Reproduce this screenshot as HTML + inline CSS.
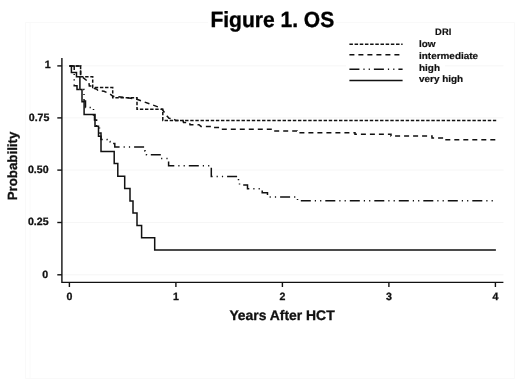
<!DOCTYPE html>
<html><head><meta charset="utf-8"><title>Figure 1. OS</title>
<style>
html,body{margin:0;padding:0;background:#fff;}
body{width:520px;height:384px;overflow:hidden;font-family:"Liberation Sans",Arial,Helvetica,sans-serif;}
svg{display:block;text-rendering:geometricPrecision;font-family:"Liberation Sans",Arial,Helvetica,sans-serif;}
</style></head><body>
<svg width="520" height="384" viewBox="0 0 520 384">
<path d="M208,22.5 H25.5 V378.5 H514.5 V22.5 H336" fill="none" stroke="#f9f9f9" stroke-width="1"/>
<line x1="30" y1="23" x2="30" y2="378" stroke="#fafafa" stroke-width="1"/>
<line x1="61.9" y1="65.9" x2="346" y2="65.9" stroke="#f6f6f6" stroke-width="1"/>
<line x1="445" y1="65.9" x2="503.5" y2="65.9" stroke="#f6f6f6" stroke-width="1"/>
<line x1="61.9" y1="117.9" x2="503.5" y2="117.9" stroke="#f6f6f6" stroke-width="1"/>
<line x1="61.9" y1="170.1" x2="503.5" y2="170.1" stroke="#f6f6f6" stroke-width="1"/>
<line x1="61.9" y1="222.5" x2="503.5" y2="222.5" stroke="#f6f6f6" stroke-width="1"/>
<line x1="61.9" y1="274.8" x2="503.5" y2="274.8" stroke="#f6f6f6" stroke-width="1"/>
<text transform="translate(272.3,26.9) scale(0.955,1)" text-anchor="middle" font-size="22" font-weight="bold" fill="#000" stroke="#000" stroke-width="0.35">Figure 1. OS</text>
<text transform="translate(443.2,34.9) rotate(0.01)" text-anchor="middle" font-size="9.4" font-weight="bold" fill="#111" stroke="#111" stroke-width="0.15">DRI</text>
<line x1="349.4" y1="44.3" x2="402.6" y2="44.3" stroke="#111" stroke-width="1.5" stroke-dasharray="3.5 1.68"/>
<text transform="translate(419,46.8) scale(1.06,1)" font-size="9.4" font-weight="bold" fill="#111" stroke="#111" stroke-width="0.2">low</text>
<line x1="349.4" y1="54.8" x2="402.6" y2="54.8" stroke="#111" stroke-width="1.5" stroke-dasharray="5 4"/>
<text transform="translate(419,58.5) scale(1.06,1)" font-size="9.4" font-weight="bold" fill="#111" stroke="#111" stroke-width="0.2">intermediate</text>
<line x1="349.4" y1="69.2" x2="402.6" y2="69.2" stroke="#111" stroke-width="1.5" stroke-dasharray="10 4 1.2 4.1 1.2 4"/>
<text transform="translate(419,70.5) scale(1.06,1)" font-size="9.4" font-weight="bold" fill="#111" stroke="#111" stroke-width="0.2">high</text>
<line x1="349.4" y1="80.4" x2="402.6" y2="80.4" stroke="#111" stroke-width="1.5"/>
<text transform="translate(419,81.8) scale(1.06,1)" font-size="9.4" font-weight="bold" fill="#111" stroke="#111" stroke-width="0.2">very high</text>
<path d="M61.9,58 V282.4 H503.4" fill="none" stroke="#111" stroke-width="1.4"/>
<line x1="57.3" y1="65.9" x2="61.9" y2="65.9" stroke="#111" stroke-width="1.4"/>
<text x="50.6" y="67.8" text-anchor="end" font-size="10.6" font-weight="bold" fill="#111" stroke="#111" stroke-width="0.3">1</text>
<line x1="57.3" y1="117.9" x2="61.9" y2="117.9" stroke="#111" stroke-width="1.4"/>
<text x="49.4" y="120.8" text-anchor="end" font-size="10.6" font-weight="bold" fill="#111" stroke="#111" stroke-width="0.3">0.75</text>
<line x1="57.3" y1="170.1" x2="61.9" y2="170.1" stroke="#111" stroke-width="1.4"/>
<text x="48.6" y="173.0" text-anchor="end" font-size="10.6" font-weight="bold" fill="#111" stroke="#111" stroke-width="0.3">0.50</text>
<line x1="57.3" y1="222.5" x2="61.9" y2="222.5" stroke="#111" stroke-width="1.4"/>
<text x="48.6" y="225.4" text-anchor="end" font-size="10.6" font-weight="bold" fill="#111" stroke="#111" stroke-width="0.3">0.25</text>
<line x1="57.3" y1="274.8" x2="61.9" y2="274.8" stroke="#111" stroke-width="1.4"/>
<text x="48.2" y="277.7" text-anchor="end" font-size="10.6" font-weight="bold" fill="#111" stroke="#111" stroke-width="0.3">0</text>
<line x1="69.4" y1="282.4" x2="69.4" y2="287" stroke="#111" stroke-width="1.4"/>
<text x="69.4" y="300.3" text-anchor="middle" font-size="10.6" font-weight="bold" fill="#111" stroke="#111" stroke-width="0.3">0</text>
<line x1="175.9" y1="282.4" x2="175.9" y2="287" stroke="#111" stroke-width="1.4"/>
<text x="175.9" y="300.3" text-anchor="middle" font-size="10.6" font-weight="bold" fill="#111" stroke="#111" stroke-width="0.3">1</text>
<line x1="282.4" y1="282.4" x2="282.4" y2="287" stroke="#111" stroke-width="1.4"/>
<text x="282.4" y="300.3" text-anchor="middle" font-size="10.6" font-weight="bold" fill="#111" stroke="#111" stroke-width="0.3">2</text>
<line x1="388.9" y1="282.4" x2="388.9" y2="287" stroke="#111" stroke-width="1.4"/>
<text x="388.9" y="300.3" text-anchor="middle" font-size="10.6" font-weight="bold" fill="#111" stroke="#111" stroke-width="0.3">3</text>
<line x1="495.4" y1="282.4" x2="495.4" y2="287" stroke="#111" stroke-width="1.4"/>
<text x="495.4" y="300.3" text-anchor="middle" font-size="10.6" font-weight="bold" fill="#111" stroke="#111" stroke-width="0.3">4</text>
<text x="282" y="319.9" text-anchor="middle" font-size="13.9" font-weight="bold" fill="#111" stroke="#111" stroke-width="0.3">Years After HCT</text>
<text transform="translate(17,166) rotate(-90)" text-anchor="middle" font-size="13.3" font-weight="bold" fill="#111" stroke="#111" stroke-width="0.3">Probability</text>
<polyline points="69.4,65.9 80.6,65.9 80.6,76.7 92.7,76.7 92.7,87.6 112.7,87.6 112.7,97.8 137,97.8 137,109.2 162.8,109.2 162.8,120.4 496.2,120.4" fill="none" stroke="#111" stroke-width="1.5" stroke-linejoin="miter" stroke-dasharray="3.4 1.73" stroke-dashoffset="4.21"/>
<polyline points="69.4,65.9 80.6,65.9 80.6,76.7 82,76.7 87,80.8 88.8,81.5 89.3,86 92.2,86 92.6,88 97,89.3 98,90.8 104,91.3 110,94 113,96.3 124,97.3 137,99.3 161,108 163,110.5 167,116 169,118.3 174,118.6 175.5,120.6 183,120.6 183.5,122.5 189.5,122.6 190,124.7 199,124.7 201,126.4 213.5,126.4 214,127.6 221,127.6 221.5,129.3 273.8,129.3 273.8,130.9 297,130.9 297,132.7 355,132.7 355,134.2 391,134.2 391,136 432,136 432,138 444,138 444,139.8 495.7,139.8" fill="none" stroke="#111" stroke-width="1.5" stroke-linejoin="miter" stroke-dasharray="5 4" stroke-dashoffset="2.56"/>
<polyline points="69.4,65.9 74.2,65.9 74.2,85.8 77,85.8 77,89.5 84,89.5 84,101 85.5,101 85.5,107.5 93.5,107.5 93.5,115 94.5,115 94.5,120 96.6,120 96.6,127 99.5,127 99.5,133 101,133 101,139.4 107,139.4 107,141.5 110,141.5 110,143.5 114.8,143.5 114.8,147 145,147 145,151 146.5,151 146.5,154.8 161,154.8 161,158.5 168.6,158.5 168.6,165.8 211.3,165.8 211.3,176.5 238.5,176.5 238.5,180.6 239.5,180.6 239.5,184.9 247.5,184.9 247.5,188.8 262.2,188.8 262.2,192.8 267.5,192.8 267.5,197 297.5,197 297.5,200.8 495.4,200.8" fill="none" stroke="#111" stroke-width="1.5" stroke-linejoin="miter" stroke-dasharray="10 4 1.2 4.1 1.2 4" stroke-dashoffset="1.20"/>
<polyline points="69.4,65.9 71.4,65.9 71.4,72.5 76.5,72.5 76.5,76.8 79.9,76.8 79.9,89.5 82,89.5 82,101.8 84.1,101.8 84.1,114.5 95,114.5 95,126.3 98.5,126.3 98.5,136.3 101,136.3 101,151.6 114.2,151.6 114.2,163.6 117.8,163.6 117.8,176.2 124.7,176.2 124.7,188.4 130,188.4 130,201 133,201 133,213 137,213 137,225.6 141.6,225.6 141.6,237.8 154.7,237.8 154.7,249.9 495.9,249.9" fill="none" stroke="#111" stroke-width="1.5" stroke-linejoin="miter"/>
</svg>
</body></html>
